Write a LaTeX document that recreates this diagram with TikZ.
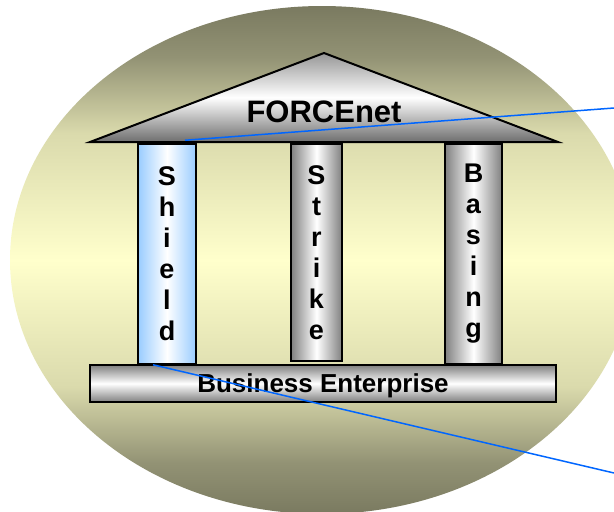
\documentclass[tikz,border=0pt]{standalone}
\usepackage{fontspec}
\setmainfont{Liberation Sans}

\definecolor{olivedark}{RGB}{122,122,96}
\definecolor{olivemid}{RGB}{146,146,116}
\definecolor{olivelight}{RGB}{218,218,172}
\definecolor{paleyellow}{RGB}{255,255,204}
\definecolor{colgray}{RGB}{128,128,128}
\definecolor{roofgray}{RGB}{150,150,150}
\definecolor{roofdark}{RGB}{110,110,110}
\definecolor{shieldblue}{RGB}{153,204,255}
\definecolor{calloutblue}{RGB}{0,102,255}

\pgfdeclareverticalshading{backdrop}{100bp}{color(0bp)=(olivedark); color(25bp)=(olivedark);
  color(30bp)=(olivemid); color(37.5bp)=(olivelight); color(50bp)=(paleyellow);
  color(62.5bp)=(olivelight); color(70bp)=(olivemid); color(75bp)=(olivedark); color(100bp)=(olivedark)}

\begin{document}
\begin{tikzpicture}[x=1pt,y=-1pt,
  column/.style={rectangle,draw=black,line width=1.5pt,inner sep=0pt,align=center,
    font=\bfseries\fontsize{27}{31}\selectfont,
    left color=colgray,right color=colgray,middle color=white},
  callout/.style={draw=calloutblue,line width=1.5pt}]
  \useasboundingbox (0,0) rectangle (614,512);

  \shade[shading=backdrop] (322,260) ellipse [x radius=312,y radius=254]; % backdrop

  % pillars
  \node[column,left color=shieldblue,right color=shieldblue,middle color=white,
    minimum width=58,minimum height=220] (shield) at (167,254) {S\\h\\i\\e\\l\\d};
  \node[column,minimum width=51,minimum height=217] (strike) at (316.5,252.5) {S\\t\\r\\i\\k\\e};
  \node[column,minimum width=57,minimum height=220] (basing) at (473.5,254) {B\\a\\s\\i\\n\\g};

  \node[draw=black,line width=2pt,inner sep=0pt,text depth=0pt,
    top color=colgray,bottom color=colgray,middle color=white,
    minimum width=466,minimum height=37,
    font=\bfseries\fontsize{26}{30}\selectfont] (enterprise) at (323,383.5) {Business Enterprise};

  % roof
  \draw[line width=2pt,line join=miter,top color=roofgray,bottom color=roofdark,middle color=white]
    (90,142) -- (324,53) -- (558,142) -- cycle;
  \node[anchor=base,inner sep=0pt,font=\bfseries\fontsize{31}{36}\selectfont] (forcenet) at (324,122) {FORCEnet};

  \coordinate (rimtop) at (614,108);
  \coordinate (rimbottom) at (614,473);
  \draw[callout] ([shift={(18,-3)}]shield.north) -- (rimtop);% upper callout
  \draw[callout] ([xshift=-14pt]shield.south) -- (rimbottom);% lower callout
\end{tikzpicture}
\end{document}
